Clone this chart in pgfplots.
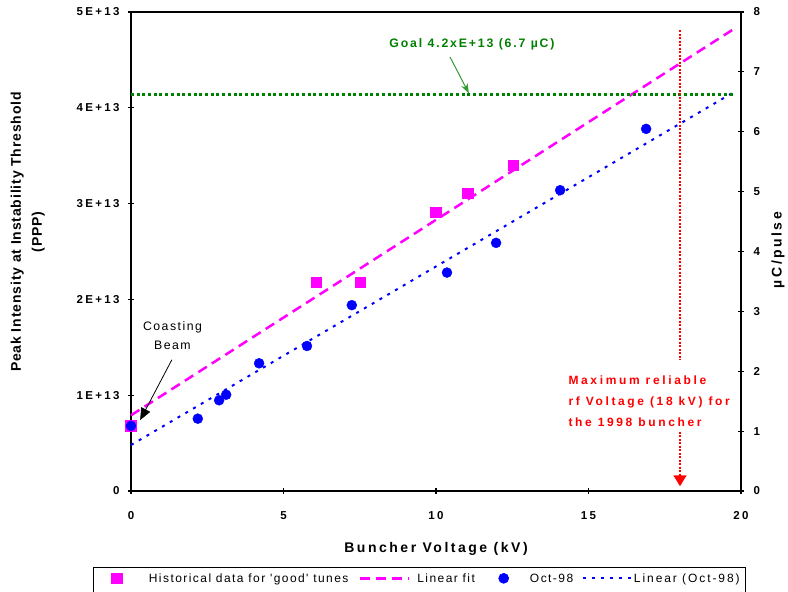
\documentclass[border=0pt]{standalone}
\usepackage{fontspec}
\setmainfont{Liberation Sans}
\newfontfamily\tickfont[LetterSpace=20]{Liberation Sans}
\newfontfamily\labfont[LetterSpace=18]{Liberation Sans}
\newfontfamily\ylabfont[LetterSpace=6]{Liberation Sans}
\newfontfamily\goalfont[LetterSpace=15]{Liberation Sans}
\newfontfamily\redfont[LetterSpace=22]{Liberation Sans}
\newfontfamily\legfont[LetterSpace=12]{Liberation Sans}
\usepackage{pgfplots}
\pgfplotsset{compat=1.18}
\usetikzlibrary{arrows.meta}
\definecolor{goalgreen}{RGB}{0,128,0}
\definecolor{arrowgreen}{RGB}{51,153,51}
\definecolor{mag}{RGB}{255,0,255}
\definecolor{blu}{RGB}{0,0,255}
\definecolor{red}{RGB}{255,0,0}
\pgfplotsset{
  legA/.style={legend image code/.code={\path (0pt,0pt) (55pt,0pt); \draw[mark repeat=2,mark phase=2,##1,yshift=4pt] plot coordinates {(22pt,0pt) (23pt,0pt) (24pt,0pt)};}},
  legB/.style={legend image code/.code={\path (0pt,0pt) (56pt,0pt); \draw[##1,yshift=4pt] (0pt,0pt) -- (49pt,0pt);}},
  legC/.style={legend image code/.code={\path (0pt,0pt) (54pt,0pt); \draw[mark repeat=2,mark phase=2,##1,yshift=4pt] plot coordinates {(27pt,0pt) (28pt,0pt) (29pt,0pt)};}},
  legD/.style={legend image code/.code={\path (0pt,0pt) (50pt,0pt); \draw[##1,yshift=4pt] (0pt,0pt) -- (48pt,0pt);}},
}
\begin{document}
\begin{tikzpicture}[x=1pt,y=1pt]
\path[use as bounding box] (0,0) rectangle (788,592);
\begin{axis}[
  at={(131pt,101pt)}, anchor=south west,
  scale only axis, width=610pt, height=479pt,
  xmin=0, xmax=20, ymin=0, ymax=5e13,
  xtick={0,5,10,15,20}, xticklabels={0,5,10,15,20},
  ytick={0,1e13,2e13,3e13,4e13,5e13},
  yticklabels={0,1E+13,2E+13,3E+13,4E+13,5E+13},
  scaled y ticks=false, scaled x ticks=false,
  /pgf/number format/assume math mode=true,
  xtick pos=bottom, ytick pos=left,
  tick align=center, major tick length=6pt,
  every tick/.style={black, line width=1.2pt},
  axis line style={line width=1.5pt},
  every tick label/.append style={font=\tickfont\bfseries\fontsize{11.5}{13}\selectfont},
  yticklabel style={xshift=-5pt},
  xticklabel style={yshift=-14pt},
  xlabel={Buncher Voltage (kV)},
  xlabel style={at={(axis description cs:0.5,-0.121)}, anchor=center,
    font=\labfont\bfseries\fontsize{14}{16}\selectfont},
  ylabel={Peak Intensity at Instability Threshold\\(PPP)},
  ylabel style={at={(axis description cs:-0.1693,0.5407)}, anchor=center, align=center, rotate=0,
    font=\ylabfont\bfseries\fontsize{14}{21}\selectfont},
  clip=false,
  legend columns=4,
  legend style={at={(axis description cs:-0.0623,-0.1587)}, anchor=north west,
    draw=black, line width=0.6pt, inner sep=0pt,
    font=\legfont\fontsize{12}{14}\selectfont,
    nodes={inner sep=0pt, text height=15pt, text depth=12pt, anchor=base west},
    /tikz/every even column/.append style={column sep=0pt},
    /tikz/every odd column/.append style={column sep=0pt}},
  legend cell align=left,
]
% Historical data
\addplot[only marks, mark=square*, mark size=5.3pt, color=mag, legA]
  coordinates {(0,0.68e13) (6.07,2.18e13) (7.51,2.18e13) (10.0,2.91e13) (11.03,3.11e13) (12.53,3.40e13)};
\addlegendentry{\makebox[210pt][l]{Historical data for 'good' tunes}}
% Linear fit
\addplot[mag, line width=2.5pt, dash pattern=on 10pt off 6pt, legB]
  coordinates {(0,0.79e13) (19.8,4.83e13)};
\addlegendentry{\makebox[58pt][l]{Linear fit}}
% Oct-98
\addplot[only marks, mark=*, mark size=5pt, color=blu, legC]
  coordinates {(0,0.68e13) (2.19,0.755e13) (2.89,0.947e13) (3.12,1.005e13) (4.2,1.333e13) (5.77,1.514e13) (7.24,1.94e13) (10.36,2.28e13) (11.97,2.59e13) (14.07,3.14e13) (16.89,3.78e13)};
\addlegendentry{\makebox[52pt][l]{Oct-98}}
% Linear (Oct-98)
\addplot[blu, line width=2pt, dash pattern=on 3pt off 6pt, legD]
  coordinates {(0,0.48e13) (19.8,4.17e13)};
\addlegendentry{\makebox[111pt][l]{\fontspec[LetterSpace=16]{Liberation Sans}Linear (Oct-98)}}
% Goal line
\addplot[goalgreen, line width=2.5pt, dash pattern=on 3pt off 2.7pt, forget plot]
  coordinates {(0,4.14e13) (19.8,4.14e13)};
% Max voltage line
\addplot[red, line width=1.6pt, dash pattern=on 2pt off 1.5pt, forget plot]
  coordinates {(18,4.81e13) (18,1.37e13)};
\addplot[red, line width=1.6pt, dash pattern=on 2pt off 1.5pt, forget plot,
  -{Triangle[width=13pt,length=11pt,sep=-1pt]}]
  coordinates {(18,0.62e13) (18,0.06e13)};
% Annotations
\node[goalgreen, font=\goalfont\bfseries\fontsize{12.3}{14}\selectfont, anchor=center]
  at (axis cs:11.18,4.66e13) {Goal 4.2xE+13 (6.7 µC)};
\draw[arrowgreen, line width=1pt, -{Stealth[width=7pt,length=10pt]}]
  (axis cs:10.46,4.53e13) -- (axis cs:11.08,4.15e13);
\node[black, font=\legfont\fontsize{12.3}{19}\selectfont, align=center, anchor=center]
  at (axis cs:1.36,1.62e13) {Coasting\\Beam};
\draw[black, line width=0.8pt, -{Triangle[width=10pt,length=12pt]}]
  (axis cs:1.34,1.37e13) -- (axis cs:0.30,0.74e13);
\node[red, font=\redfont\bfseries\fontsize{12}{21}\selectfont, align=left, anchor=west]
  at (axis cs:14.23,0.94e13) {Maximum reliable\\rf Voltage (18 kV) for\\the 1998 buncher};
\end{axis}
\begin{axis}[
  at={(131pt,101pt)}, anchor=south west,
  scale only axis, width=610pt, height=479pt,
  xmin=0, xmax=20, ymin=0, ymax=8,
  axis x line=none, axis y line*=right,
  ytick={0,1,2,3,4,5,6,7,8}, yticklabels={0,1,2,3,4,5,6,7,8},
  tick align=center, major tick length=6pt,
  every tick/.style={black, line width=1.2pt},
  axis line style={line width=1.5pt},
  every tick label/.append style={font=\tickfont\bfseries\fontsize{11.5}{13}\selectfont},
  yticklabel style={xshift=6pt},
  ylabel={µC/pulse},
  ylabel style={at={(axis description cs:1.0607,0.503)}, anchor=center, rotate=0,
    font=\labfont\bfseries\fontsize{14}{16}\selectfont},
]
\addplot[draw=none, forget plot] coordinates {(0,0) (20,8)};
\end{axis}
\end{tikzpicture}
\end{document}
